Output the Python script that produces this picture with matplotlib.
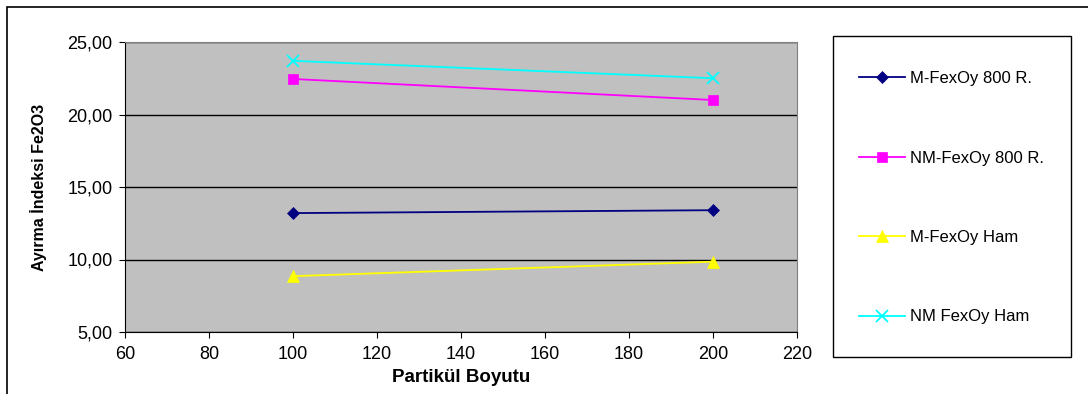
import matplotlib
matplotlib.use("Agg")
import matplotlib.pyplot as plt
from matplotlib.patches import Rectangle
from matplotlib.ticker import FuncFormatter

plt.rcParams['font.family'] = ['Liberation Sans', 'DejaVu Sans']

particle_size = [100, 200]
m_800 = [13.2, 13.4]
nm_800 = [22.45, 21.0]
m_ham = [8.85, 9.85]
nm_ham = [23.7, 22.5]

series = [
    ("M-FexOy 800 R.", m_800, "#000080", "D", 6),
    ("NM-FexOy 800 R.", nm_800, "#FF00FF", "s", 7),
    ("M-FexOy Ham", m_ham, "#FFFF00", "^", 8),
    ("NM FexOy Ham", nm_ham, "#00FFFF", "x", 8),
]

fig = plt.figure(figsize=(10.88, 3.94), dpi=100)
W, H = 1088, 394

# outer chart-area border
fig.patches.append(Rectangle((7 / W, -0.1), 1.2, 1 - 7 / H + 0.1,
                             transform=fig.transFigure, fill=False,
                             edgecolor="#000000", linewidth=1.2))

ax = fig.add_axes([125 / W, 1 - 332 / H, (797 - 125) / W, (332 - 42) / H])
ax.set_facecolor("#C0C0C0")

handles = []
for label, vals, color, marker, ms in series:
    h, = ax.plot(particle_size, vals, color=color, marker=marker, markersize=ms,
                 linewidth=1.3, markeredgewidth=1.3 if marker == "x" else 0.5,
                 markeredgecolor=color, label=label, zorder=3)
    handles.append(h)

ax.set_xlim(60, 220)
ax.set_ylim(5, 25)
ax.set_xticks(range(60, 221, 20))
ax.set_yticks([5, 10, 15, 20, 25])
ax.yaxis.set_major_formatter(FuncFormatter(lambda v, p: f"{v:.2f}".replace(".", ",")))
ax.grid(axis="y", color="#000000", linewidth=1)
ax.set_axisbelow(True)
for s in ("top", "right"):
    ax.spines[s].set_color("#808080")
for s in ("left", "bottom"):
    ax.spines[s].set_color("#000000")
ax.tick_params(axis="both", labelsize=13, length=4, direction="out", color="#000000")
ax.tick_params(axis="x", pad=6)
ax.tick_params(axis="y", pad=5)

ax.set_xlabel("Partikül Boyutu", fontsize=13.5, fontweight="bold")
ax.set_ylabel("Ayırma İndeksi Fe2O3", fontsize=11.5, fontweight="bold")
ax.xaxis.set_label_coords(0.5, -0.128)
ax.yaxis.set_label_coords(-0.116, 0.5)

# legend box
fig.patches.append(Rectangle((833 / W, 1 - 357 / H), (1071 - 833) / W, (357 - 36) / H,
                             transform=fig.transFigure, fill=True, facecolor="white",
                             edgecolor="#000000", linewidth=1.0))

fig.legend(handles=handles, loc="upper left",
           bbox_to_anchor=(859 / W, 1 - 71 / H),
           fontsize=12, frameon=False, labelspacing=3.87, handlelength=2.75,
           borderpad=0, borderaxespad=0, handletextpad=0.3)

fig.savefig("out.png", dpi=100)
